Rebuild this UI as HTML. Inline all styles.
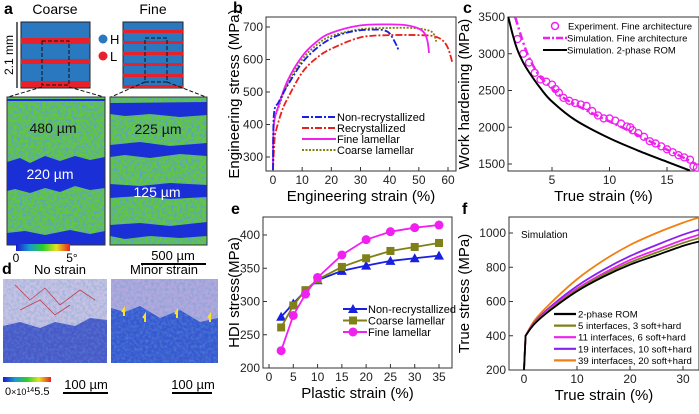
<!DOCTYPE html>
<html><head><meta charset="utf-8"><style>
body{margin:0;background:#fff}
svg{display:block;font-family:"Liberation Sans",Arial,sans-serif}
</style></head><body>
<svg id="fig" width="699" height="414" viewBox="0 0 699 414" xmlns="http://www.w3.org/2000/svg">
<defs>
<filter id="noise" x="0" y="0" width="100%" height="100%">
<feTurbulence type="fractalNoise" baseFrequency="0.35" numOctaves="2" seed="3"/>
<feColorMatrix type="matrix" values="0 0 0 0 0.1  0 0 0 0 0.35  0 0 0 0 0.7  0 0 0 -2.2 1.4"/>
<feComposite in2="SourceGraphic" operator="in"/>
</filter>
<filter id="noise2" x="0" y="0" width="100%" height="100%">
<feTurbulence type="fractalNoise" baseFrequency="0.12" numOctaves="2" seed="7"/>
<feColorMatrix type="matrix" values="0 0 0 0 0.85  0 0 0 0 0.82  0 0 0 0 0.95  0 0 0 -2.5 1.5"/>
<feComposite in2="SourceGraphic" operator="in"/>
</filter>
</defs>
<g>
<text x="4" y="14" font-size="16" font-weight="bold">a</text>
<text x="55" y="14" font-size="14" text-anchor="middle">Coarse</text>
<text x="153" y="14" font-size="14" text-anchor="middle">Fine</text>
<line x1="17" y1="22" x2="17" y2="88" stroke="#000" stroke-width="1.2"/>
<text x="13" y="55" font-size="12" text-anchor="middle" transform="rotate(-90 13 55)">2.1 mm</text>
<g>
<rect x="21" y="22" width="69" height="66" fill="#2a78c0" stroke="#222"/>
<rect x="21" y="38" width="69" height="6" fill="#e8202a"/>
<rect x="21" y="59" width="69" height="5" fill="#e8202a"/>
<rect x="21" y="81" width="69" height="6" fill="#e8202a"/>
<rect x="42" y="41" width="27" height="44" fill="none" stroke="#111" stroke-dasharray="4,2"/>
</g>
<g>
<rect x="123" y="22" width="60" height="66" fill="#2a78c0" stroke="#222"/>
<rect x="123" y="30" width="60" height="3" fill="#e8202a"/>
<rect x="123" y="41" width="60" height="3" fill="#e8202a"/>
<rect x="123" y="52" width="60" height="3" fill="#e8202a"/>
<rect x="123" y="63" width="60" height="3" fill="#e8202a"/>
<rect x="123" y="74" width="60" height="3" fill="#e8202a"/>
<rect x="123" y="85" width="60" height="3" fill="#e8202a"/>
<rect x="145" y="38" width="22" height="44" fill="none" stroke="#111" stroke-dasharray="4,2"/>
</g>
<circle cx="103" cy="39" r="4.5" fill="#2a78c0"/><text x="110" y="44" font-size="13">H</text>
<circle cx="103" cy="56" r="4.5" fill="#e8202a"/><text x="110" y="61" font-size="13">L</text>
<line x1="42" y1="87" x2="8" y2="97" stroke="#111" stroke-dasharray="4,2"/>
<line x1="69" y1="87" x2="104" y2="97" stroke="#111" stroke-dasharray="4,2"/>
<line x1="145" y1="82" x2="111" y2="97" stroke="#111" stroke-dasharray="4,2"/>
<line x1="167" y1="82" x2="206" y2="97" stroke="#111" stroke-dasharray="4,2"/>
<g>
<rect x="7" y="97" width="98" height="148" fill="#62c836"/>
<rect x="7" y="97" width="98" height="148" fill="#62c836" filter="url(#noise)"/>
<path d="M7,99 L105,99 L105,101 L7,101Z" fill="#1a2fd6"/>
<path d="M7,162 L20,158 L30,163 L45,156 L60,161 L75,156 L90,160 L105,157 L105,188 L90,190 L75,186 L60,192 L45,188 L30,193 L15,189 L7,191Z" fill="#1a2fd6"/>
<path d="M7,233 L25,231 L45,235 L70,230 L90,234 L105,231 L105,245 L7,245Z" fill="#1a2fd6"/>
<rect x="7" y="97" width="98" height="148" fill="none" stroke="#333"/>
<text x="53" y="133" font-size="14" text-anchor="middle" fill="#111">480 µm</text>
<text x="50" y="179" font-size="14" text-anchor="middle" fill="#fff">220 µm</text>
</g>
<g>
<rect x="110" y="97" width="97" height="148" fill="#62c836"/>
<rect x="110" y="97" width="97" height="148" fill="#62c836" filter="url(#noise)"/>
<path d="M110,103 L207,102 L207,115 L180,117 L150,114 L125,116 L110,114Z" fill="#1a2fd6"/>
<path d="M110,145 L140,142 L170,146 L207,143 L207,156 L180,154 L150,158 L125,155 L110,157Z" fill="#1a2fd6"/>
<path d="M110,184 L140,186 L170,183 L207,185 L207,197 L170,199 L140,196 L110,198Z" fill="#1a2fd6"/>
<path d="M110,225 L140,223 L170,226 L207,222 L207,236 L180,238 L150,236 L125,239 L110,236Z" fill="#1a2fd6"/>
<rect x="110" y="97" width="97" height="148" fill="none" stroke="#333"/>
<text x="158" y="134" font-size="14" text-anchor="middle" fill="#111">225 µm</text>
<text x="157" y="197" font-size="14" text-anchor="middle" fill="#fff">125 µm</text>
</g>
<defs><linearGradient id="rb" x1="0" x2="1"><stop offset="0" stop-color="#1a1ad0"/><stop offset="0.25" stop-color="#1a9ad0"/><stop offset="0.5" stop-color="#2ad02a"/><stop offset="0.75" stop-color="#e8e020"/><stop offset="1" stop-color="#e82020"/></linearGradient></defs>
<rect x="16" y="244" width="54" height="7" fill="url(#rb)"/>
<text x="16" y="262" font-size="12" text-anchor="middle">0</text>
<text x="72" y="262" font-size="12" text-anchor="middle">5°</text>
<text x="173" y="260" font-size="13" text-anchor="middle">500 µm</text>
<line x1="141" y1="264" x2="206" y2="264" stroke="#000" stroke-width="2"/>
</g>
<g>
<text x="2" y="274" font-size="16" font-weight="bold">d</text>
<text x="60" y="274" font-size="13" text-anchor="middle">No strain</text>
<text x="164" y="274" font-size="13" text-anchor="middle">Minor strain</text>
<g>
<rect x="3" y="279" width="104" height="84" fill="#4a58c8"/>
<path d="M3,279 L107,279 L107,320 L90,318 L75,326 L55,322 L40,328 L20,322 L3,326Z" fill="#c9c2e2"/>
<rect x="3" y="279" width="104" height="84" fill="#5060c8" opacity="0.4" filter="url(#noise)"/>
<path d="M15,285 L30,300 L45,288 L60,305 L80,290 L95,300 M20,310 L40,300 L55,315 L70,305" stroke="#c04050" stroke-width="0.8" fill="none"/>
</g>
<g>
<rect x="111" y="279" width="107" height="84" fill="#3858d0"/>
<path d="M111,279 L218,279 L218,318 L200,322 L180,310 L160,318 L140,306 L125,312 L111,308Z" fill="#b4a8dc"/>
<rect x="111" y="279" width="107" height="84" fill="#30c0d0" opacity="0.45" filter="url(#noise)"/>
<path d="M124,316 l0,-7 l-2,3 M145,322 l0,-7 l-2,3 M177,318 l0,-7 l-2,3 M210,322 l0,-7 l-2,3" stroke="#ffe020" stroke-width="2" fill="none"/>
</g>
<rect x="3" y="377" width="48" height="5" fill="url(#rb)"/>
<text x="5" y="395" font-size="11">0<tspan font-size="9">×10</tspan><tspan font-size="7" dy="-3">14</tspan><tspan dy="3">5.5</tspan></text>
<text x="86" y="389" font-size="13" text-anchor="middle">100 µm</text>
<line x1="63" y1="393" x2="108" y2="393" stroke="#000" stroke-width="2"/>
<text x="193" y="389" font-size="13" text-anchor="middle">100 µm</text>
<line x1="172" y1="393" x2="212" y2="393" stroke="#000" stroke-width="2"/>
</g>
<g id="charts"></g>
</svg>
<script>
// ---- Panel b data ----
const bNonX=[0,0.3,2,5,10,15,20,25,30,35,38,40,42,43];
const bNonY=[260,430,470,520,590,635,665,682,690,692,690,680,650,630];
const bRecX=[0,0.5,1,3,5,10,15,20,30,40,50,55,58,60,61.5];
const bRecY=[260,350,380,440,480,560,605,633,668,675,675,672,660,635,590];
const bFineX=[0,0.3,2,5,10,15,20,30,40,46,50,52,53,53.5];
const bFineY=[260,400,460,535,610,655,682,705,708,705,695,680,655,620];
const bCoarseX=[0,0.3,2,5,10,15,20,30,40,48,53,55,56];
const bCoarseY=[260,400,455,525,600,645,672,693,697,697,690,680,655];
const bXTicks=[0,10,20,30,40,50,60];
const bYTicks=[300,400,500,600,700];
// ---- Panel c data ----
const cExpX=[2,2.5,3,3.5,4,4.5,5,5.3,5.6,6,6.5,7,7.5,8,8.5,9,9.5,10,10.5,11,11.5,11.8,12,12.5,13,13.5,14,14.5,15,15.5,16,16.5,17,17.3,17.6];
const cExpY=[3200,3000,2880,2740,2650,2620,2580,2520,2470,2400,2360,2330,2310,2290,2220,2160,2120,2120,2090,2050,2010,2000,1960,1920,1870,1810,1780,1740,1700,1660,1620,1590,1560,1470,1450];
const cSimX=[1.8,2.5,3,3.5,4,5,6,8,10,12,14,16,17.5];
const cSimY=[3500,3150,2950,2800,2680,2530,2400,2230,2080,1930,1770,1620,1500];
const cRomX=[1.2,1.6,2,2.5,3,4,5,7,10,13,15,17];
const cRomY=[3500,3250,3050,2880,2750,2530,2350,2100,1850,1650,1530,1410];
const cXTicks=[5,10,15];
const cYTicks=[1500,2000,2500,3000,3500];
// ---- Panel e data ----
const eX=[2.5,5,7.5,10,15,20,25,30,35];
const eNon=[277,297,316,332,346,354,361,365,369];
const eCoarse=[261,294,317,333,352,365,376,382,388];
const eFine=[226,279,311,336,370,393,405,411,415];
const eXTicks=[0,5,10,15,20,25,30,35];
const eYTicks=[200,250,300,350,400];
// ---- Panel f data ----
const fX=[0,0.3,2,5,10,15,20,25,30,33];
const fRom=[200,400,470,550,660,745,815,870,925,950];
const f5=[200,400,472,555,668,755,828,886,942,970];
const f11=[200,400,475,560,675,765,842,902,960,990];
const f19=[200,400,480,570,690,785,865,930,990,1020];
const f39=[200,400,490,590,730,840,930,1000,1060,1090];
const fXTicks=[0,10,20,30];
const fYTicks=[200,400,600,800,1000];

const NS="http://www.w3.org/2000/svg";
const root=document.getElementById('charts');
function mk(tag,attrs,parent){const e=document.createElementNS(NS,tag);for(const k in attrs)e.setAttribute(k,attrs[k]);(parent||root).appendChild(e);return e;}
function lin(d0,d1,r0,r1){return v=>r0+(v-d0)*(r1-r0)/(d1-d0);}
function smooth(pts){let d='M'+pts[0][0]+','+pts[0][1];for(let i=0;i<pts.length-1;i++){const p0=pts[Math.max(0,i-1)],p1=pts[i],p2=pts[i+1],p3=pts[Math.min(pts.length-1,i+2)];const c1x=p1[0]+(p2[0]-p0[0])/6,c1y=p1[1]+(p2[1]-p0[1])/6,c2x=p2[0]-(p3[0]-p1[0])/6,c2y=p2[1]-(p3[1]-p1[1])/6;d+=' C'+c1x+','+c1y+' '+c2x+','+c2y+' '+p2[0]+','+p2[1];}return d;}
function axes(g,box,sx,sy,xt,yt,xtitle,ytitle,ytx){
  const r=mk('rect',{x:box.l,y:box.t,width:box.r-box.l,height:box.b-box.t,fill:'none',stroke:'#333','stroke-width':1},g);
  
  
  xt.forEach(v=>{const x=sx(v);mk('line',{x1:x,x2:x,y1:box.b,y2:box.b-4,stroke:'#333'},g);const t=mk('text',{x:x,y:box.b+13,'font-size':12,'text-anchor':'middle',fill:'#222'},g);t.textContent=v;
    
    });
  yt.forEach(v=>{const y=sy(v);mk('line',{x1:box.l,x2:box.l+4,y1:y,y2:y,stroke:'#333'},g);const t=mk('text',{x:box.l-3,y:y+4,'font-size':12,'text-anchor':'end',fill:'#222'},g);t.textContent=v;
    
    });
  const xtl=mk('text',{x:(box.l+box.r)/2,y:box.b+30,'font-size':15,'text-anchor':'middle'},g);xtl.textContent=xtitle;
  
  
  const cy=(box.t+box.b)/2;const ytl=mk('text',{x:ytx,y:cy,'font-size':15,'text-anchor':'middle',transform:'rotate(-90 '+ytx+' '+cy+')'},g);ytl.textContent=ytitle;
  
  
}
function line(g,xs,ys,sx,sy,attrs,name){const p=mk('path',Object.assign({d:smooth(xs.map((x,i)=>[sx(x),sy(ys[i])])),fill:'none'},attrs),g);
  
  return p;}
function label(g,x,y,txt,size,weight,name){const t=mk('text',{x:x,y:y,'font-size':size,'font-weight':weight||'normal'},g);t.textContent=txt;
  
  return t;}

// Panel b
(function(){const g=mk('g',{});
 const box={l:266,r:456,t:17,b:171};const sx=lin(0,60,273,448),sy=lin(300,700,157,27);
 label(g,233,13,'b',16,'bold','panel-label-b');
 axes(g,box,sx,sy,bXTicks,bYTicks,'Engineering strain (%)','Engineering stress (MPa)',239);
 line(g,bRecX,bRecY,sx,sy,{stroke:'#e8201a','stroke-width':1.8,'stroke-dasharray':'7,2,2,2'},'recrystallized-curve');
 line(g,bCoarseX,bCoarseY,sx,sy,{stroke:'#808010','stroke-width':1.8,'stroke-dasharray':'2,1.5'},'coarse-lamellar-curve');
 line(g,bFineX,bFineY,sx,sy,{stroke:'#f020f0','stroke-width':1.8},'fine-lamellar-curve');
 line(g,bNonX,bNonY,sx,sy,{stroke:'#1a20e0','stroke-width':1.8,'stroke-dasharray':'7,2,2,2'},'non-recrystallized-curve');
 const L=[['Non-recrystallized','#1a20e0','7,2,2,2'],['Recrystallized','#e8201a','7,2,2,2'],['Fine lamellar','#f020f0',''],['Coarse lamellar','#808010','2,1.5']];
 L.forEach((l,i)=>{const y=117+i*11;const ln=mk('line',{x1:302,x2:336,y1:y,y2:y,stroke:l[1],'stroke-width':2,'stroke-dasharray':l[2]},g);label(g,337,y+4,l[0],11,'normal','legend-entry');});
})();
// Panel c
(function(){const g=mk('g',{});
 const box={l:508,r:699,t:17,b:171};const sx=lin(5,15,552,667),sy=lin(1500,3500,164,17);
 label(g,463,13,'c',16,'bold','panel-label-c');
 axes(g,box,sx,sy,cXTicks,cYTicks,'True strain (%)','Work hardening (MPa)',469);
 cExpX.forEach((x,i)=>{const c=mk('circle',{cx:sx(x),cy:sy(cExpY[i]),r:3.5,fill:'none',stroke:'#f020f0','stroke-width':1.3},g);});
 line(g,cSimX,cSimY,sx,sy,{stroke:'#f020f0','stroke-width':2.5,'stroke-dasharray':'8,3,2,3'},'simulation-fine-curve');
 line(g,cRomX,cRomY,sx,sy,{stroke:'#000','stroke-width':2},'simulation-rom-curve');
 let c=mk('circle',{cx:555,cy:26,r:3.5,fill:'none',stroke:'#f020f0','stroke-width':1.5},g);
 label(g,568,29.5,'Experiment. Fine architecture',9.5,'normal','legend-entry');
 let l1=mk('line',{x1:543,x2:567,y1:38,y2:38,stroke:'#f020f0','stroke-width':2.5,'stroke-dasharray':'7,2,2,2'},g);
 label(g,567,41.5,'Simulation. Fine architecture',9.5,'normal','legend-entry');
 let l2=mk('line',{x1:543,x2:567,y1:50,y2:50,stroke:'#000','stroke-width':2},g);
 label(g,567,53.5,'Simulation. 2-phase ROM',9.5,'normal','legend-entry');
})();
// Panel e
(function(){const g=mk('g',{});
 const box={l:263,r:452,t:217,b:368};const sx=lin(0,35,269,439),sy=lin(200,400,368,235);
 label(g,231,214,'e',16,'bold','panel-label-e');
 axes(g,box,sx,sy,eXTicks,eYTicks,'Plastic strain (%)','HDI stress(MPa)',239);
 const S=[[eNon,'#1a20e0','tri','non-recrystallized'],[eCoarse,'#808018','sq','coarse-lamellar'],[eFine,'#f020f0','ci','fine-lamellar']];
 S.forEach(s=>{const p=mk('polyline',{points:eX.map((x,i)=>sx(x)+','+sy(s[0][i])).join(' '),fill:'none',stroke:s[1],'stroke-width':1.8},g);
  eX.forEach((x,i)=>{const X=sx(x),Y=sy(s[0][i]);let m;
   if(s[2]=='tri')m=mk('path',{d:`M${X},${Y-5}L${X+5},${Y+4}L${X-5},${Y+4}Z`,fill:s[1]},g);
   else if(s[2]=='sq')m=mk('rect',{x:X-4,y:Y-4,width:8,height:8,fill:s[1]},g);
   else m=mk('circle',{cx:X,cy:Y,r:4.5,fill:s[1]},g);
   });});
 const L=[['Non-recrystallized','#1a20e0','tri'],['Coarse lamellar','#808018','sq'],['Fine lamellar','#f020f0','ci']];
 L.forEach((l,i)=>{const y=309+i*11.5;const X=353;const ln=mk('line',{x1:343,x2:367,y1:y,y2:y,stroke:l[1],'stroke-width':2},g);
  let m;if(l[2]=='tri')m=mk('path',{d:`M${X},${y-5}L${X+5},${y+4}L${X-5},${y+4}Z`,fill:l[1]},g);else if(l[2]=='sq')m=mk('rect',{x:X-4,y:y-4,width:8,height:8,fill:l[1]},g);else m=mk('circle',{cx:X,cy:y,r:4.5,fill:l[1]},g);
  
  label(g,368,y+4,l[0],11,'normal','legend-entry');});
})();
// Panel f
(function(){const g=mk('g',{});
 const box={l:509,r:699,t:217,b:370};const sx=lin(0,10,524,577),sy=lin(200,1000,370,233);
 label(g,462,214,'f',16,'bold','panel-label-f');
 axes(g,box,sx,sy,fXTicks,fYTicks,'True strain (%)','True stress (MPa)',469);
 label(g,521,238,'Simulation',10,'normal','simulation-note');
 const S=[[fRom,'#000','2-phase ROM','rom'],[f5,'#808018','5 interfaces, 3 soft+hard','5-interfaces'],[f11,'#f020f0','11 interfaces, 6 soft+hard','11-interfaces'],[f19,'#8a20f0','19 interfaces, 10 soft+hard','19-interfaces'],[f39,'#f08010','39 interfaces, 20 soft+hard','39-interfaces']];
 S.slice().reverse().forEach(s=>{const pts=fX.map((x,i)=>[sx(x),sy(s[0][i])]);let d='M'+pts[0][0]+','+pts[0][1]+' L'+pts[1][0]+','+pts[1][1]+' '+smooth(pts.slice(1)).replace('M',' L');
  const p=mk('path',{d:d,fill:'none',stroke:s[1],'stroke-width':1.8},g);});
 S.forEach((s,i)=>{const y=314+i*11.6;const ln=mk('line',{x1:554,x2:576,y1:y,y2:y,stroke:s[1],'stroke-width':2.2},g);
  label(g,578,y+3.5,s[2],9.6,'normal','legend-entry');});
})();
</script>
</body></html>
